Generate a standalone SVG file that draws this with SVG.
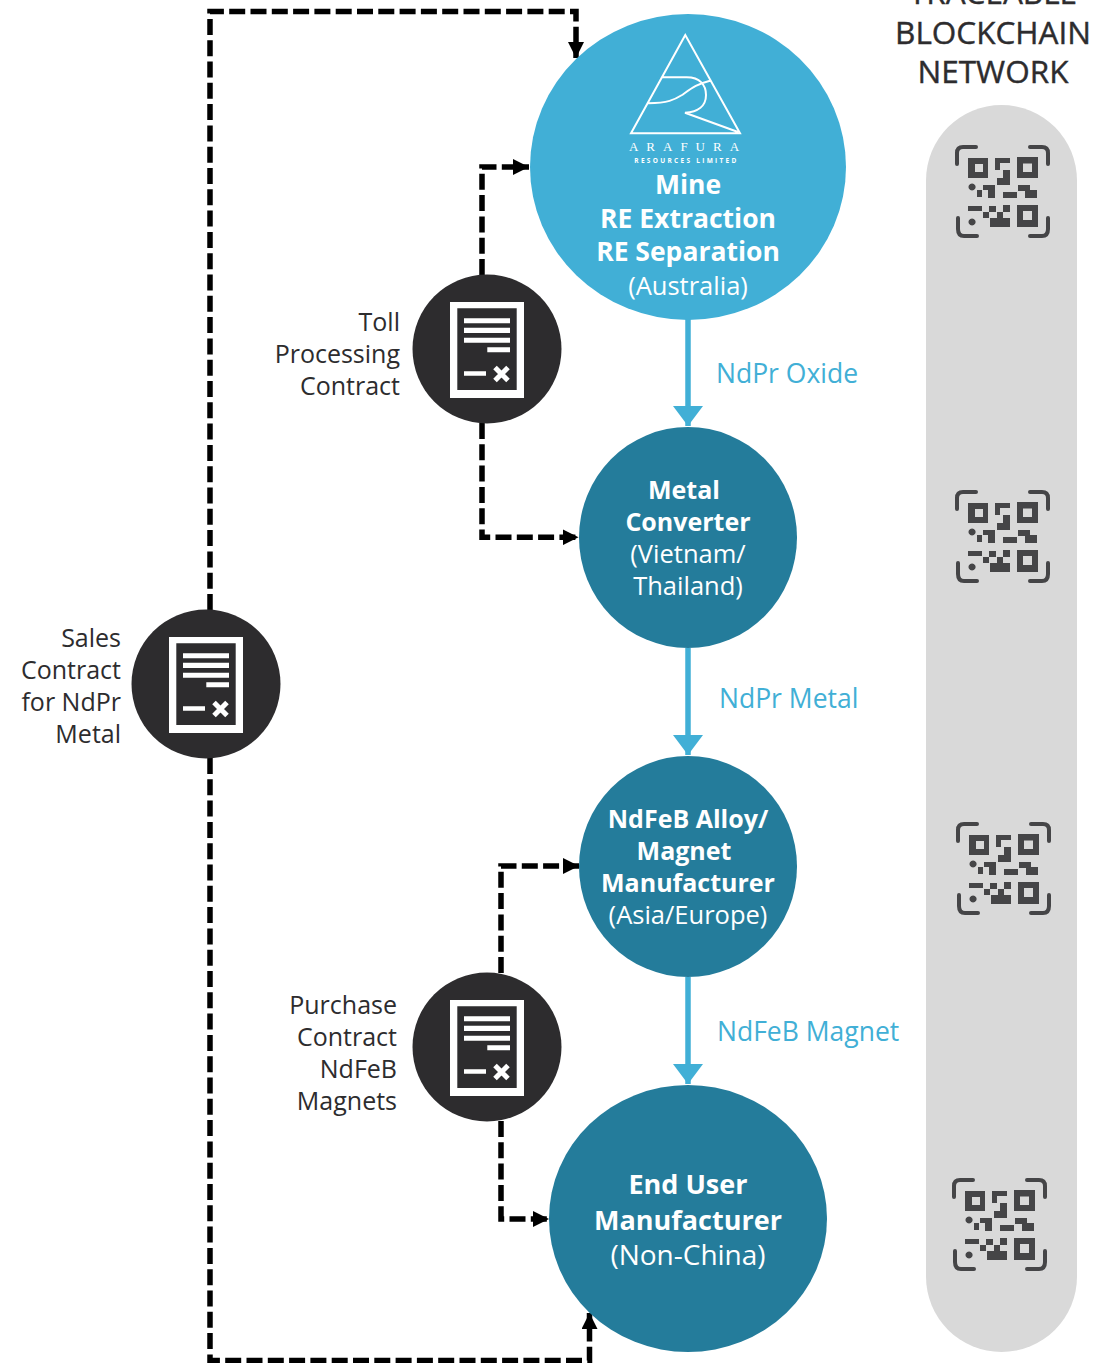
<svg xmlns="http://www.w3.org/2000/svg" xmlns:xlink="http://www.w3.org/1999/xlink" width="1105" height="1363" viewBox="0 0 1105 1363">
<style>
text{font-family:"Open Sans","Noto Sans","Liberation Sans",sans-serif;}
.w{fill:#fff;font-size:25.500px;text-anchor:middle}
.b{font-weight:700;font-size:25px}
.m{font-weight:700;font-size:26.500px}
.e{font-size:27px}
.l{fill:#2d2c2e;font-size:25px;text-anchor:end}
.f{fill:#41afd6;font-size:26.500px}
.h{fill:#2d2c2e;stroke:#2d2c2e;stroke-width:.4;font-size:31.500px;text-anchor:middle}
.flow{fill:none;stroke:#41afd6;stroke-width:5.500}
.dash{fill:none;stroke:#000;stroke-width:5.500;stroke-dasharray:16 5.300}
.lo{fill:none;stroke:#fff;stroke-width:2}
</style>
<defs>
<marker id="ah" markerUnits="userSpaceOnUse" markerWidth="17" markerHeight="16" refX="16" refY="8" orient="auto"><path d="M0 0L16 8L0 16Z" fill="#000"/></marker>
<marker id="af" markerUnits="userSpaceOnUse" markerWidth="30" markerHeight="30" refX="20" refY="15" orient="auto"><path d="M0 0L20 15L0 30Z" fill="#41afd6"/></marker>
<g id="doc">
<circle cx="487" cy="349" r="74.500" fill="#2d2c2e"/>
<path fill="#fff" fill-rule="evenodd" d="M450 302H524V398H450ZM457.300 308.300V390H516.700V308.300Z"/>
<path fill="#fff" d="M464 318.300H510V323.300H464ZM464 327.700H510V333H464ZM464 337.700H510V342.700H464ZM487.300 347.300H510V352.300H487.300ZM464 371.300H486V375.700H464Z"/>
<path stroke="#fff" stroke-width="5" d="M495 367.500L508 380.500M508 367.500L495 380.500"/>
</g>
<g id="qr" fill="#454547">
<path fill="none" stroke="#454547" stroke-width="4" stroke-linecap="round" d="M957 164V153Q957 147 963 147H976M1030 147H1042Q1048 147 1048 153V164M958 218V229Q958 236 964 236H977M1030 236H1042Q1048 236 1048 229V218"/>
<path fill-rule="evenodd" d="M968 158H988V178H968ZM975 164V172H983V164ZM1017 157H1038V178H1017ZM1023 163.500V172H1032V163.500ZM1017 205H1038V227H1017ZM1023 211V220H1032V211Z"/>
<path d="M995 158H1010V163H1000V170H995ZM1003 170H1010V185H997V178H1003ZM972 183.500a3.500 3.500 0 1 0 .1 0ZM977 190H982V197H977ZM983 185H995V198H988V190H983ZM1003 192H1017V198H1003ZM1018 185H1030V190H1037V198H1025V191H1018ZM968 206H982V211H968ZM983 212H989V218H983ZM989 206H996V212H989ZM1003 205H1010V212H1003ZM997 212H1003V218H1010V227H990V218H997ZM972 218.500a3.500 3.500 0 1 0 .1 0Z"/>
</g>
</defs>

<g id="connectors">
<path class="flow" d="M688 319V426" marker-end="url(#af)"/>
<path class="flow" d="M688 648V755" marker-end="url(#af)"/>
<path class="flow" d="M688 977V1084" marker-end="url(#af)"/>
<path class="dash" d="M482 275V167H529" marker-end="url(#ah)"/>
<path class="dash" d="M482 423V537.300H578.500" marker-end="url(#ah)"/>
<path class="dash" d="M501 973V866H579" marker-end="url(#ah)"/>
<path class="dash" d="M501 1121V1219H549" marker-end="url(#ah)"/>
<path class="dash" d="M210 610V11.500H576V58" marker-end="url(#ah)"/>
<path class="dash" d="M210 758V1360.500H589.500V1313" marker-end="url(#ah)"/>
</g>

<g id="network">
<rect x="926" y="105" width="151" height="1247" rx="75.500" fill="#d9d9d9"/>
<text class="h" x="993" y="4">TRACEABLE</text>
<text class="h" x="993" y="44">BLOCKCHAIN</text>
<text class="h" x="993" y="83">NETWORK</text>
<use id="qr1" xlink:href="#qr"/>
<use id="qr2" xlink:href="#qr" y="345"/>
<use id="qr3" xlink:href="#qr" x="1" y="677"/>
<use id="qr4" xlink:href="#qr" x="-3" y="1033"/>
</g>

<g id="mine">
<ellipse cx="688" cy="167" rx="158" ry="153" fill="#41afd6"/>
<path class="lo" d="M685.300 35L631 133.300H740ZM662 77.300H686.700C700 77.300 706 85 706 95C706 106 698 112 685 112.700L738 132M648.300 103.300C668 103 674 100 682 95C692 88 697 84 710 80.700"/>
<text x="688" y="151" fill="#fff" font-size="13" text-anchor="middle" letter-spacing="8" style="font-family:'Liberation Serif',serif">ARAFURA</text>
<text x="686.500" y="163" fill="#fff" font-size="6.500" font-weight="700" text-anchor="middle" letter-spacing="2.300">RESOURCES LIMITED</text>
<text class="w m" x="688" y="194">Mine</text>
<text class="w m" x="688" y="228">RE Extraction</text>
<text class="w m" x="688" y="261">RE Separation</text>
<text class="w" x="688" y="295">(Australia)</text>
</g>
<g id="converter">
<ellipse cx="688" cy="537.500" rx="109" ry="110.500" fill="#247c9b"/>
<text class="w b" x="684" y="499">Metal</text>
<text class="w b" x="688" y="531">Converter</text>
<text class="w" x="688" y="563">(Vietnam/</text>
<text class="w" x="688" y="595">Thailand)</text>
</g>
<g id="magnet">
<ellipse cx="688" cy="866.500" rx="109" ry="110.500" fill="#247c9b"/>
<text class="w b" x="688" y="828">NdFeB Alloy/</text>
<text class="w b" x="684" y="860">Magnet</text>
<text class="w b" x="688" y="892">Manufacturer</text>
<text class="w" x="688" y="924">(Asia/Europe)</text>
</g>
<g id="enduser">
<ellipse cx="688" cy="1218.500" rx="139" ry="133.500" fill="#247c9b"/>
<text class="w b e" x="688" y="1194">End User</text>
<text class="w b e" x="688" y="1230">Manufacturer</text>
<text class="w" x="688" y="1265" style="font-size:28px">(Non-China)</text>
</g>

<g id="toll"><use xlink:href="#doc"/>
<text class="l" x="400" y="331">Toll</text><text class="l" x="400" y="363">Processing</text><text class="l" x="400" y="395">Contract</text></g>
<g id="sales"><use xlink:href="#doc" x="-281" y="335"/>
<text class="l" x="121" y="647">Sales</text><text class="l" x="121" y="679">Contract</text><text class="l" x="121" y="711">for NdPr</text><text class="l" x="121" y="743">Metal</text></g>
<g id="purchase"><use xlink:href="#doc" y="698"/>
<text class="l" x="397" y="1014">Purchase</text><text class="l" x="397" y="1046">Contract</text><text class="l" x="397" y="1078">NdFeB</text><text class="l" x="397" y="1110">Magnets</text></g>

<g id="labels">
<text class="f" x="716" y="383">NdPr Oxide</text>
<text class="f" x="719" y="708">NdPr Metal</text>
<text class="f" x="717" y="1041">NdFeB Magnet</text>
</g>
</svg>
